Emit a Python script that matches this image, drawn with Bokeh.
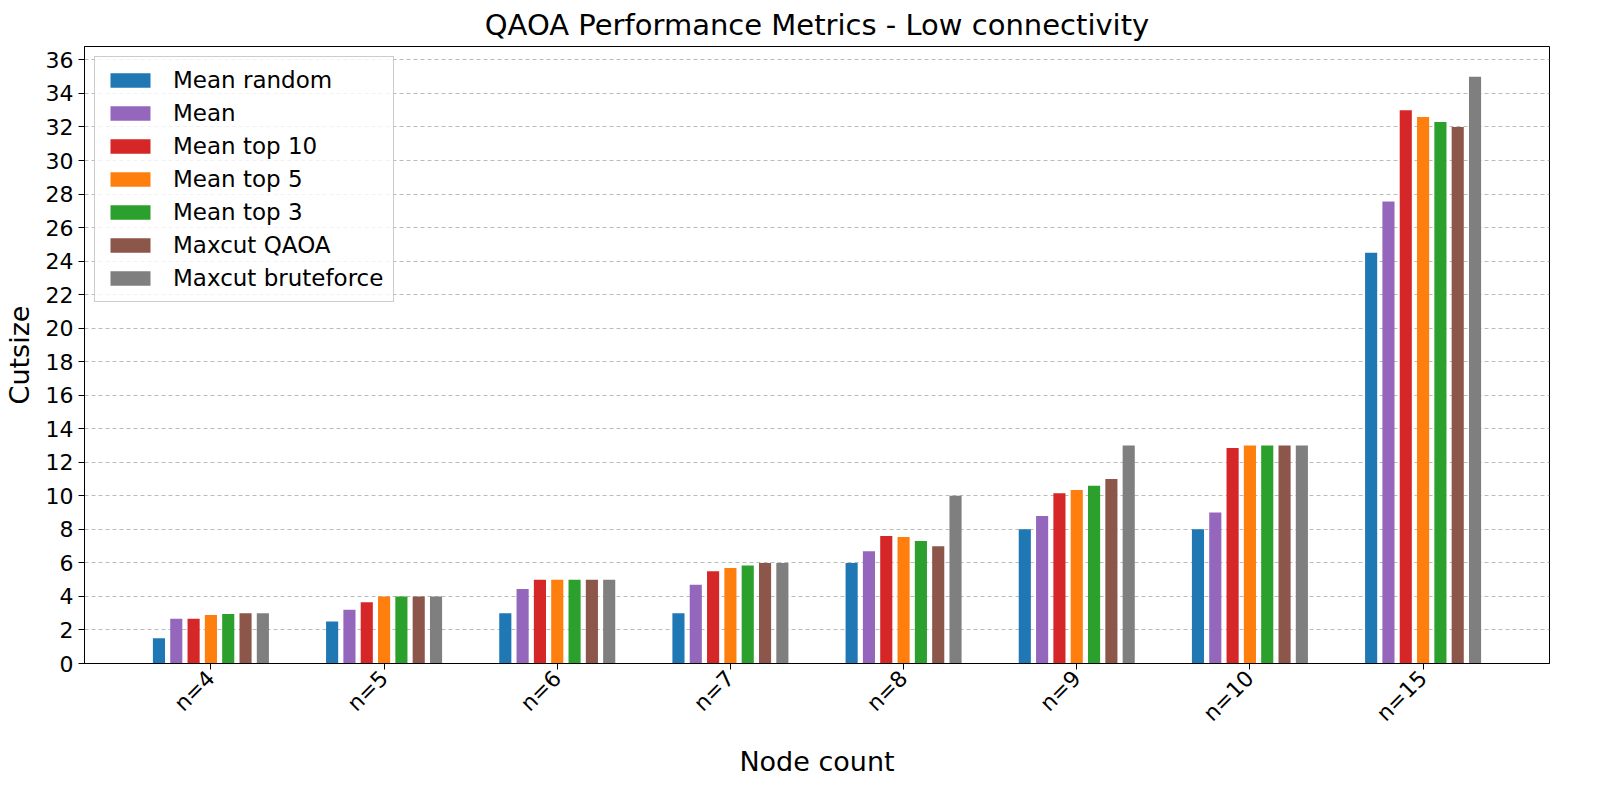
import math
from bokeh.plotting import figure
from bokeh.models import ColumnDataSource, Legend, LegendItem, FixedTicker, Range1d
from bokeh.embed import file_html
from bokeh.resources import INLINE

categories = ["n=4", "n=5", "n=6", "n=7", "n=8", "n=9", "n=10", "n=15"]
series_names = ["Mean random", "Mean", "Mean top 10", "Mean top 5", "Mean top 3",
                "Maxcut QAOA", "Maxcut bruteforce"]
colors = ["#1f77b4", "#9467bd", "#d62728", "#ff7f0e", "#2ca02c", "#8c564b", "#7f7f7f"]

mean_random = [1.5, 2.5, 3, 3, 6, 8, 8, 24.5]
mean = [2.67, 3.2, 4.45, 4.7, 6.7, 8.8, 9, 27.55]
mean_top10 = [2.67, 3.65, 5, 5.5, 7.6, 10.15, 12.85, 33]
mean_top5 = [2.9, 4, 5, 5.7, 7.55, 10.35, 13, 32.6]
mean_top3 = [2.95, 4, 5, 5.85, 7.3, 10.6, 13, 32.3]
maxcut_qaoa = [3, 4, 5, 6, 7, 11, 13, 32]
maxcut_brute = [3, 4, 5, 6, 10, 13, 13, 35]
series = [mean_random, mean, mean_top10, mean_top5, mean_top3, maxcut_qaoa, maxcut_brute]

p = figure(frame_width=1465, frame_height=617, output_backend="svg", toolbar_location=None,
           x_range=Range1d(-0.73, 7.73), y_range=Range1d(0, 36.8),
           min_border_left=80, min_border_right=39, min_border_top=37, min_border_bottom=100)
p.title.text = "QAOA Performance Metrics - Low connectivity"
p.title.align = "center"
p.title.text_font_size = "29px"
p.title.text_font_style = "normal"
p.title.text_font = "DejaVu Sans"
p.title.text_color = "black"

items = []
for k, (vals, name, c) in enumerate(zip(series, series_names, colors)):
    src = ColumnDataSource(dict(x=[i + (k - 3) * 0.1 for i in range(len(categories))], top=vals))
    r = p.vbar(x="x", top="top", width=0.07, source=src, fill_color=c, line_color=None)
    items.append(LegendItem(label=name, renderers=[r]))

legend = Legend(items=items, location="top_left", label_text_font_size="23px",
                label_text_font="DejaVu Sans", label_text_color="black",
                glyph_width=50, glyph_height=18, label_standoff=18,
                spacing=7, padding=10, border_line_color="#cccccc", border_line_alpha=1,
                background_fill_alpha=0.8)
p.add_layout(legend)

p.xaxis.ticker = FixedTicker(ticks=list(range(len(categories))))
p.xaxis.major_label_overrides = {i: c for i, c in enumerate(categories)}
p.xaxis.major_label_orientation = math.pi / 4
p.yaxis.ticker = FixedTicker(ticks=list(range(0, 37, 2)))
for ax in (p.xaxis, p.yaxis):
    ax.major_label_text_font_size = "22px"
    ax.major_label_text_font = "DejaVu Sans"
    ax.major_label_text_color = "black"
    ax.axis_label_text_font_size = "27px"
    ax.axis_label_text_font = "DejaVu Sans"
    ax.axis_label_text_font_style = "normal"
    ax.axis_label_text_color = "black"
    ax.axis_label_standoff = 8
    ax.minor_tick_line_color = None
    ax.major_tick_out = 6
    ax.major_tick_in = 0
    ax.major_tick_line_color = "black"
    ax.axis_line_color = "black"
p.xaxis.axis_label = "Node count"
p.yaxis.axis_label = "Cutsize"

p.xgrid.grid_line_color = None
p.ygrid.grid_line_color = "#bbbbbb"
p.ygrid.grid_line_dash = "4 3"
p.outline_line_color = "black"
p.outline_line_alpha = 1

open("out.html", "w").write(file_html(p, INLINE))
